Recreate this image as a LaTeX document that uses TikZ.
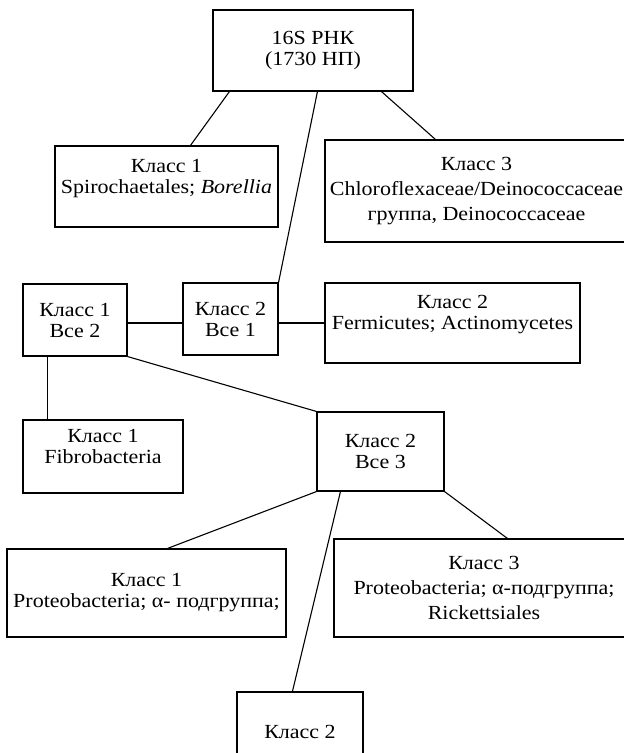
\documentclass[tikz,border=0pt]{standalone}
\usepackage{fontspec}
\setmainfont{Liberation Serif}[FakeStretch=1.1]
\usetikzlibrary{calc}

\begin{document}
\begin{tikzpicture}[x=1pt,y=-1pt,line width=1.1pt,
    box/.style={draw,rectangle,align=center,inner sep=0pt,font=\fontsize{20}{21}\selectfont}]
                    \useasboundingbox (0,0) rectangle (624,753);
                    \clip (0,0) rectangle (624,753);
                    \node[box,minimum width=200,minimum height=81] (RNA) at (313,50.5) {16S РНК\\(1730 НП)};
                    \node[box,minimum width=223,minimum height=81] (SP) at (166.5,186.5) {Класс 1\\Spirochaetales; \textit{Borellia}\\\mbox{}};
                    \node[box,minimum width=303,minimum height=102] (CH) at (476.5,191) {Класс 3\\[4pt]Chloroflexaceae/Deinococcaceae\\[4pt]группа, Deinococcaceae};
                    \node[box,minimum width=104,minimum height=72] (A2) at (75,320) {Класс 1\\Все 2};
                    \node[box,minimum width=95,minimum height=72] (A1) at (230.5,319) {Класс 2\\Все 1};
                    \node[box,minimum width=255,minimum height=80] (FA) at (452.5,323) {Класс 2\\Fermicutes; Actinomycetes\\\mbox{}};
                    \node[box,minimum width=160,minimum height=73] (FB) at (103,456.5) {Класс 1\\Fibrobacteria\\\mbox{}};
                    \node[box,minimum width=127,minimum height=79] (A3) at (380.5,451.5) {Класс 2\\Все 3};
                    \node[box,minimum width=279,minimum height=88] (PA) at (146.5,593) {Класс 1\\Proteobacteria; α- подгруппа;};
                    \node[box,minimum width=300,minimum height=98] (PR) at (484,588) {Класс 3\\[4pt]Proteobacteria; α-подгруппа;\\[4pt]Rickettsiales};
                    \node[box,minimum width=126,minimum height=80] (K2) at (300,732) {Класс 2};
                    \path
                    ($(RNA.south west)+(17,0)$) edge ($(SP.north west)+(136,0)$)
                    ($(RNA.south west)+(105,0)$) edge (A1.north east)
                    ($(RNA.south west)+(169,0)$) edge ($(CH.north west)+(111,0)$)
                    (A2.east |- FA.west) edge (A1.west |- FA.west)
                    (A1.east |- FA.west) edge (FA.west)
                    ($(A2.south west)+(25,0)$) edge ($(FB.north west)+(25,0)$)
                    (A2.south east) edge (A3.north west)
                    (A3.south west) edge ($(PA.north west)+(161,0)$)
                    ($(A3.south west)+(24,0)$) edge ($(K2.north west)+(56,0)$)
                    (A3.south east) edge ($(PR.north west)+(174,0)$);
                    \end{tikzpicture}
\end{document}
